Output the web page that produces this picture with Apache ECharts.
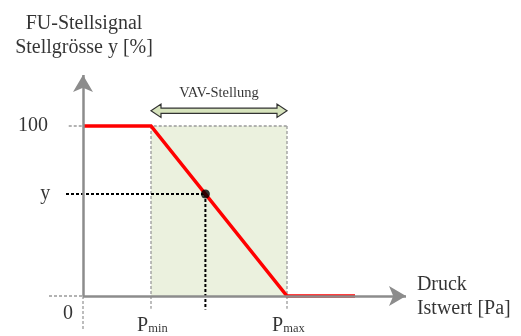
<!DOCTYPE html>
<html>
<head>
<meta charset="utf-8">
<script src="https://cdn.jsdelivr.net/npm/echarts@6/dist/echarts.min.js"></script>
<style>
  html, body { margin: 0; padding: 0; background: #fff; }
  #chart { width: 521px; height: 336px; }
</style>
</head>
<body>
<div id="chart"></div>
<script>
// pressure axis positions (arbitrary units): origin, Pmin, Pmax, end of curve
const pressure = [0, 1, 3, 4];
// control signal y [%] at those positions
const signal = [100, 100, 0, 0];
// operating point on the ramp
const opPoint = [1.8, 60];
// axis arrow ends
const xAxisEnd = 4.75;
const yAxisEnd = 130;
// VAV band: [from, to, height]
const vavBand = [[1, 3, 109]];
const vavText = "VAV-Stellung";
// tick texts
const yTickLabels = [{ text: "100", x: -0.515, y: 100 }, { text: "y", x: -0.48, y: 60 }];
const xTickLabels = [
  { text: "0", x: -0.147, y: -10.6, sub: "" },
  { text: "P", x: 1.02, y: -16.8, sub: "min" },
  { text: "P", x: 3.02, y: -16.8, sub: "max" },
];
const yTitle = ["FU-Stellsignal", "Stellgrösse y [%]"];
const xTitle = ["Druck", "Istwert [Pa]"];

const FONT = "Liberation Serif";
const GREY = "#8c8c8c";

const chart = echarts.init(document.getElementById("chart"), null, { renderer: "canvas" });

const dashedGrey = { color: "#9a9a9a", width: 1.3, type: [3, 2] };
const dottedBlack = { color: "#000", width: 2, type: [3, 2] };

function guide(points, lineStyle, z) {
  return {
    type: "line",
    data: points,
    symbol: "none",
    clip: false,
    silent: true,
    z,
    lineStyle,
  };
}

const textItems = [
  ...yTickLabels.map((l) => ({
    value: [l.x, l.y],
    label: { formatter: l.text, align: "right" },
  })),
  ...xTickLabels.map((l) => ({
    value: [l.x, l.y],
    label: {
      formatter: l.sub ? `{p|${l.text}}{s|${l.sub}}` : l.text,
      align: l.sub ? "center" : "right",
    },
  })),
  {
    value: [(vavBand[0][0] + vavBand[0][1]) / 2, 119.4],
    label: { formatter: vavText, fontSize: 14.5 },
  },
  { value: [0.015, 160], label: { formatter: yTitle[0] } },
  { value: [0.015, 146], label: { formatter: yTitle[1] } },
  { value: [4.91, 6.5], label: { formatter: xTitle[0], align: "left" } },
  { value: [4.91, -7.4], label: { formatter: xTitle[1], align: "left" } },
];

const options = {
  backgroundColor: "#fff",
  animation: false,
  grid: { left: 1.4, width: 404.6, top: 75, height: 263.5, outerBoundsMode: "none" },
  xAxis: { type: "value", min: -1.2, max: xAxisEnd, show: false },
  yAxis: { type: "value", min: -25, max: yAxisEnd, show: false },
  series: [
    // shaded VAV range
    {
      type: "custom",
      silent: true,
      z: 1,
      clip: false,
      data: [[pressure[1], pressure[2], 0, signal[0]]],
      renderItem(params, api) {
        const p0 = api.coord([api.value(0), api.value(3)]);
        const p1 = api.coord([api.value(1), api.value(2)]);
        return {
          type: "rect",
          shape: { x: p0[0], y: p0[1], width: p1[0] - p0[0], height: p1[1] - p0[1] },
          style: { fill: "#ebf1de" },
        };
      },
    },
    guide([[-0.21, 100], [pressure[2], 100]], dashedGrey, 2),
    guide([[-0.5, 0], [0, 0]], dashedGrey, 2),
    guide([[0, 0], [0, -20]], dashedGrey, 2),
    guide([[pressure[1], 100], [pressure[1], -7.5]], dashedGrey, 2),
    guide([[pressure[2], 100], [pressure[2], -7.5]], dashedGrey, 2),
    guide([[-0.25, opPoint[1]], opPoint], dottedBlack, 3),
    guide([opPoint, [opPoint[0], -8]], dottedBlack, 3),
    // axes with arrow heads
    {
      type: "line",
      data: [],
      z: 3,
      silent: true,
      markLine: {
        silent: true,
        animation: false,
        symbol: ["none", "arrow"],
        symbolSize: [15, 17],
        label: { show: false },
        emphasis: { disabled: true },
        lineStyle: { color: GREY, width: 2.5, type: "solid" },
        data: [
          [{ coord: [0, 0] }, { coord: [xAxisEnd, 0] }],
          [{ coord: [0, 0] }, { coord: [0, yAxisEnd] }],
        ],
      },
    },
    // characteristic curve
    {
      type: "line",
      data: pressure.map((p, i) => [p, signal[i]]),
      symbol: "none",
      clip: false,
      z: 4,
      lineStyle: { color: "#ff0000", width: 3.5, join: "miter" },
    },
    // operating point
    {
      type: "scatter",
      data: [opPoint],
      symbolSize: 9,
      z: 5,
      itemStyle: { color: "#000" },
    },
    // VAV double arrow
    {
      type: "custom",
      silent: true,
      z: 5,
      clip: false,
      data: vavBand,
      renderItem(params, api) {
        const a = api.coord([api.value(0), api.value(2)]);
        const b = api.coord([api.value(1), api.value(2)]);
        const y = a[1];
        const hl = 10, hh = 6.7, sh = 2.6;
        const points = [
          [a[0], y],
          [a[0] + hl, y - hh],
          [a[0] + hl, y - sh],
          [b[0] - hl, y - sh],
          [b[0] - hl, y - hh],
          [b[0], y],
          [b[0] - hl, y + hh],
          [b[0] - hl, y + sh],
          [a[0] + hl, y + sh],
          [a[0] + hl, y + hh],
        ];
        return {
          type: "polygon",
          shape: { points },
          style: { fill: "#d7e4bd", stroke: "#333", lineWidth: 1.2 },
        };
      },
    },
    // texts
    {
      type: "scatter",
      symbolSize: 1,
      silent: true,
      clip: false,
      z: 6,
      itemStyle: { color: "rgba(0,0,0,0)" },
      data: textItems,
      label: {
        show: true,
        position: "inside",
        fontFamily: FONT,
        fontSize: 20,
        color: "#000",
        rich: {
          p: { fontFamily: FONT, fontSize: 20, color: "#000", verticalAlign: "bottom", lineHeight: 20 },
          s: { fontFamily: FONT, fontSize: 12.5, color: "#000", verticalAlign: "bottom", lineHeight: 22 },
        },
      },
    },
  ],
};

chart.setOption(options);
</script>
</body>
</html>
